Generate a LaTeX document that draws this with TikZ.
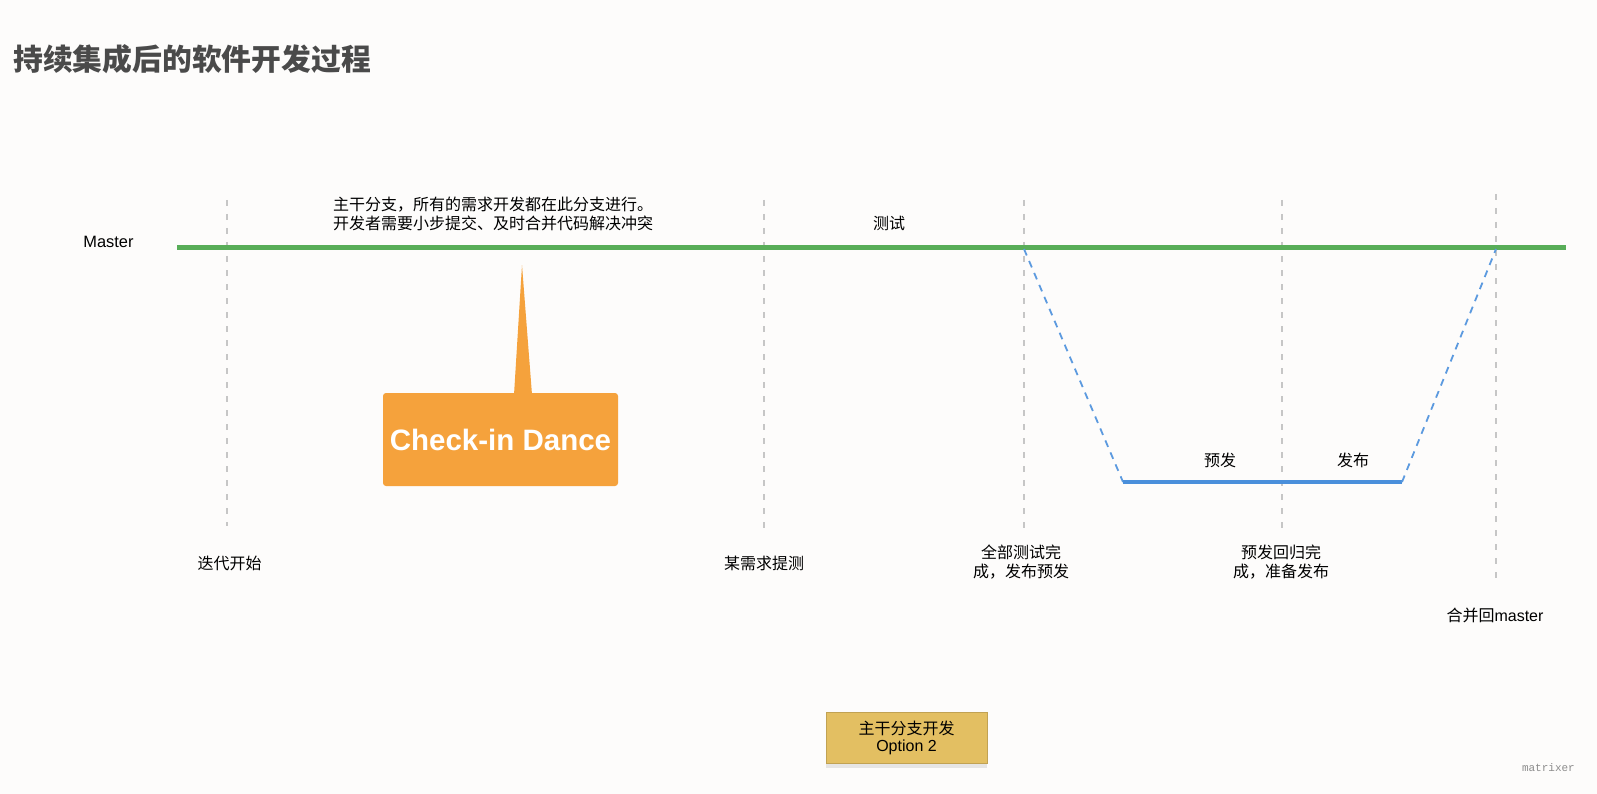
\documentclass[tikz,border=0pt]{standalone}
\usepackage{fontspec}
\setmainfont{Liberation Sans}
\newfontfamily\cjk{Noto Sans CJK SC}
\newfontfamily\monofont{Liberation Mono}
\usepackage{xcolor}
\usepackage{tikz}
\usetikzlibrary{positioning, arrows.meta, shadows}
\definecolor{paper}{HTML}{FDFCFB}
\definecolor{titlegray}{HTML}{4A4A4A}
\definecolor{mastergreen}{HTML}{58AD58}
\definecolor{prebranch}{HTML}{4A8FDB}
\definecolor{danceorange}{HTML}{F5A23C}
\definecolor{optionyellow}{HTML}{E3BF62}
\definecolor{guidegray}{HTML}{C6C6C6}

\tikzset{
  lbl/.style={font=\fontsize{16}{19}\selectfont\cjk, align=center, inner sep=0pt},
  guide/.style={draw=guidegray, line width=2pt, dash pattern=on 6pt off 8pt},
  dance/.style={fill=danceorange},
}

\begin{document}
\begin{tikzpicture}[x=1pt, y=-1pt]
  \fill[paper] (0,0) rectangle (1597,794);
  \useasboundingbox (0,0) rectangle (1597,794);

  % title
  \node[anchor=west, inner sep=0pt, text=titlegray,
        font=\fontsize{29.8}{32}\selectfont\cjk\bfseries] (title) at (13,59.5)
    {持续集成后的软件开发过程};

  % time guides
  \foreach \gx/\gtop/\gbot/\gname in {227/200/526/start, 764/200/532/submit,
      1024/200/532/tested, 1282/200/532/regressed, 1496/194/578/merged}{
    \coordinate (\gname top) at (\gx,\gtop);
    \coordinate (\gname bot) at (\gx,\gbot);
    \draw[guide] (\gname top) -- (\gname bot);
  }

  % master branch
  \node[font=\fontsize{16.4}{19}\selectfont, inner sep=0pt] (master) at (108.5,242) {Master};
  \coordinate (mstart) at (177,247.5);
  \coordinate (mend) at (1566,247.5);
  \draw[mastergreen, line width=4.5pt] (mstart) -- (mend);

  % pre-release branch
  \coordinate (forkout) at (1024,249);
  \coordinate (pstart) at (1123,482);
  \coordinate (pend) at (1402,482);
  \coordinate (forkin) at (1496,249);
  \draw[prebranch!90, line width=1.8pt, dash pattern=on 7pt off 6pt] (forkout) -- (pstart);
  \draw[prebranch, line width=4pt] (pstart) -- (pend);
  \draw[prebranch!90, line width=1.8pt, dash pattern=on 7pt off 6pt] (pend) -- (forkin);

  % labels
  \node[lbl, anchor=west, align=left] (trunknote) at (333,214)
    {主干分支，所有的需求开发都在此分支进行。\\开发者需要小步提交、及时合并代码解决冲突};
  \node[lbl] (testing) at (889,223) {测试};
  \node[lbl] (prerel) at (1220,460) {预发};
  \node[lbl] (release) at (1353,460) {发布};
  \node[lbl] (iterstart) at (229.5,563) {迭代开始};
  \node[lbl] (reqsubmit) at (764,563) {某需求提测};
  \node[lbl] (alltested) at (1021,562.5) {全部测试完\\成，发布预发};
  \node[lbl] (regdone) at (1281,562.5) {预发回归完\\成，准备发布};
  \node[lbl, font=\fontsize{16}{19}\selectfont] (mergeback) at (1495,615) {{\cjk 合并回}master};

  % check-in dance callout
  \node[dance, rounded corners=3pt, minimum width=235pt, minimum height=93pt,
        text=white, font=\fontsize{29.5}{32}\selectfont\bfseries] (checkin) at (500.5,439.5)
    {Check-in Dance};
  \coordinate (dancetip) at (522,265);
  \fill[dance] ([xshift=13.5pt, yshift=-2pt]checkin.north) -- (dancetip)
    -- ([xshift=31.5pt, yshift=-2pt]checkin.north) -- cycle;

  % option box
  \node[fill=optionyellow, draw=optionyellow!85!black, line width=0.4pt,
        minimum width=161pt, minimum height=51pt, align=center,
        font=\fontsize{16}{17}\selectfont,
        drop shadow={shadow xshift=0pt, shadow yshift=-5pt, opacity=0.18}] (option) at (906.5,737.5)
    {{\cjk 主干分支开发}\\Option 2};

  \node[anchor=east, inner sep=0pt, text=black!45, font=\fontsize{11}{12}\selectfont\monofont]
    (mark) at (1575,768) {matrixer};
\end{tikzpicture}
\end{document}
